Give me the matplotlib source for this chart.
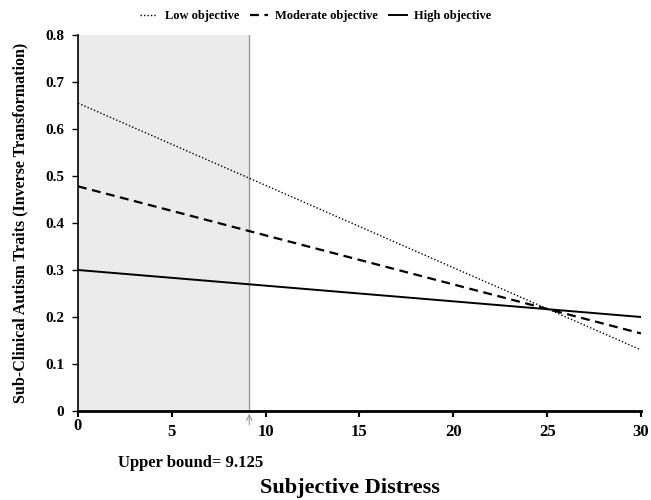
import matplotlib
matplotlib.use("Agg")
import matplotlib.pyplot as plt
import matplotlib.transforms as mtransforms
import numpy as np

plt.rcParams['font.family'] = ['Liberation Serif', 'DejaVu Serif']
plt.rcParams['font.weight'] = 'bold'

x_range = [0, 30]
series_names = ["Low objective", "Moderate objective", "High objective"]
low_vals = [0.655, 0.13]
mod_vals = [0.478, 0.165]
high_vals = [0.30, 0.20]
upper_bound = 9.125
xticks = [0, 5, 10, 15, 20, 25, 30]
yticks = [0, 0.1, 0.2, 0.3, 0.4, 0.5, 0.6, 0.7, 0.8]
ytick_labels = ["0", "0.1", "0.2", "0.3", "0.4", "0.5", "0.6", "0.7", "0.8"]

fig = plt.figure(figsize=(6.51, 5.0), dpi=100)
ax = fig.add_axes([0.1198, 0.178, 0.8648, 0.752])

ax.axvspan(0, upper_bound, color='#ebebeb', zorder=0)
ax.axvline(upper_bound, color='#9a9a9a', lw=1.0, zorder=1)

ax.plot(x_range, low_vals, color='black', lw=1.0, ls=(0, (1, 1.5)), label=series_names[0])
ax.plot(x_range, mod_vals, color='black', lw=1.6, ls=(0, (4, 2.5)), label=series_names[1])
ax.plot(x_range, high_vals, color='black', lw=1.4, ls='-', label=series_names[2])

ax.set_xlim(0, 30)
ax.set_ylim(0, 0.8)
ax.set_xticks(xticks)
ax.set_xticklabels([str(t) for t in xticks], fontsize=12, fontweight='bold')
ax.set_yticks(yticks)
ax.set_yticklabels(ytick_labels, fontsize=11, fontweight='bold')
ax.tick_params(axis='x', direction='out', length=4, width=1.5, pad=5)
ax.tick_params(axis='y', direction='out', length=4, width=1.0, pad=6)

for s in ['top', 'right']:
    ax.spines[s].set_visible(False)
ax.spines['bottom'].set_linewidth(2.0)
ax.spines['left'].set_linewidth(1.2)

# shift "0" x label up slightly
lbl0 = ax.get_xticklabels()[0]
lbl0.set_transform(lbl0.get_transform() + mtransforms.ScaledTranslation(0, 4/72, fig.dpi_scale_trans))

# arrow marker at upper bound
ax.annotate('', xy=(upper_bound, 0), xycoords='data',
            xytext=(0, -12), textcoords='offset points',
            arrowprops=dict(arrowstyle='->', color='#9a9a9a', lw=0.8),
            annotation_clip=False)

ax.text(6.0, -0.11, "Upper bound= 9.125", ha='center', va='center',
        fontsize=12, fontweight='bold')

fig.text(0.537, 0.024, "Subjective Distress", ha='center', va='center',
         fontsize=16, fontweight='bold')
ax.set_ylabel("Sub-Clinical Autism Traits (Inverse Transformation)", fontsize=11.5,
              fontweight='bold', labelpad=12)

leg = fig.legend(loc='center', bbox_to_anchor=(0.485, 0.968), ncol=3, frameon=False,
                 fontsize=9, handlelength=1.4, columnspacing=0.9, handletextpad=0.6)

fig.savefig("out.png", dpi=100)
